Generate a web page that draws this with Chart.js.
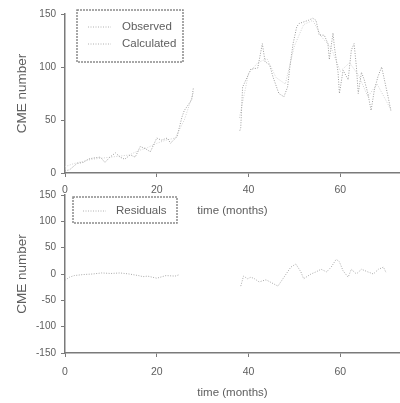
<!DOCTYPE html>
<html>
<head>
<meta charset="utf-8">
<script src="https://cdn.jsdelivr.net/npm/chart.js@4/dist/chart.umd.min.js"></script>
<style>
  body { margin: 0; background: #fff; }
  #wrap { position: relative; width: 400px; height: 403px; overflow: hidden; }
  canvas { position: absolute; left: 0; }
  #topChart { top: 0; }
  #bottomChart { top: 180px; }
</style>
</head>
<body>
<div id="wrap">
  <canvas id="topChart" width="400" height="220"></canvas>
  <canvas id="bottomChart" width="400" height="223"></canvas>
</div>
<script>
// tick labels
const xTicks = [0, 20, 40, 60];

// observed CME numbers (null = gap in the record)
const obsMonths = [0, 1, 2.6, 4, 5, 6, 7.7, 8.7, 9.8, 11, 12, 13, 14.2, 15.3, 16.4, 17.5, 18.6, 20, 21, 22.3, 23, 23.6, 24.4, 25.5, 26, 27.6, 28,
  33,
  38.1, 38.3, 38.7, 40.5, 42, 43, 43.6, 44.6, 45.3, 46.6, 47.7, 48.5, 49, 49.7, 50.5, 51, 53, 54, 54.7, 55.4, 56.5, 57.3, 57.6, 58.4, 58.7,
  59.5, 59.8, 60.6, 61.7, 62.4, 63, 63.5, 63.9, 64.6, 65.2, 66, 66.7, 67.4, 68.2, 69, 69.6, 70.4, 71];
const observed = [2, 3, 9, 10, 13, 14, 15, 10, 15, 19, 15, 13, 17, 15, 25, 23, 20, 33, 31, 33, 28, 31, 34, 53, 59, 69, 81,
  null,
  40, 43, 81, 98, 99, 122, 105, 102, 91, 75, 72, 81, 100, 122, 138, 141, 144, 146, 144, 130, 130, 122, 107, 132, 119,
  95, 75, 97, 88, 116, 122, 100, 75, 95, 88, 75, 59, 78, 91, 100, 88, 72, 59];

// calculated CME numbers
const calcMonths = [0, 2, 4, 6, 8, 10, 12, 14, 16, 18, 20, 22, 24, 26, 28,
  33,
  38, 40, 42, 44, 46, 48, 50, 52, 54, 56, 58, 60, 62, 64, 66, 68, 70, 71];
const calculated = [6, 9, 11, 13, 14, 15, 16, 17, 21, 24, 28, 31, 33, 50, 76,
  null,
  52, 94, 104, 108, 90, 84, 120, 140, 144, 128, 118, 96, 104, 92, 72, 84, 68, 60];

// residuals (observed - calculated)
const resMonths = [0, 1, 2, 4, 6, 8, 10, 12, 14, 16, 17, 18, 20, 22, 24, 25,
  30,
  38.3, 38.9, 39.8, 40.5, 41.3, 42.3, 43.8, 46.4, 49.2, 50.3, 51.4, 52, 53.6, 54.7, 55.8, 57, 58, 59.1, 59.8, 60.6, 61.7, 62.4, 63.5, 64.6, 66, 67.2, 68.3, 69.4, 70];
const residuals = [-12, -6, -3, -1, 0, 2, 1, 2, 0, -3, -5, -4, -8, -3, -4, -1,
  null,
  -23, -4, -9, -6, -9, -15, -11, -23, 13, 19, 4, -9, 0, 4, 9, 4, 13, 28, 23, 6, -6, 9, 0, 9, 4, 0, 9, 13, 2];

const textColor = "#5e5e5e";
const axisColor = "#7a7a7a";
const fontFamily = "'Liberation Sans', Arial, sans-serif";

function toPoints(xs, ys) {
  return xs.map((x, i) => ({ x: x, y: ys[i] }));
}

// draws the framed legend box with dotted border
const boxLegend = {
  id: "boxLegend",
  afterDraw(chart, args, opts) {
    const ctx = chart.ctx;
    ctx.save();
    ctx.strokeStyle = "#8a8a8a";
    ctx.lineWidth = 1.5;
    ctx.setLineDash([2, 1]);
    ctx.strokeRect(opts.x, opts.y, opts.w, opts.h);
    ctx.font = "11.5px " + fontFamily;
    ctx.fillStyle = textColor;
    ctx.textBaseline = "middle";
    chart.data.datasets.forEach((ds, i) => {
      const y = opts.y + opts.first + i * opts.gap;
      ctx.strokeStyle = "#b0b0b0";
      ctx.lineWidth = 1;
      ctx.setLineDash([1, 1.5]);
      ctx.beginPath();
      ctx.moveTo(opts.x + opts.lineStart, y);
      ctx.lineTo(opts.x + opts.lineStart + 23, y);
      ctx.stroke();
      ctx.fillText(ds.label, opts.x + opts.textStart, y);
    });
    ctx.restore();
  }
};

function xScale(height, tickPad, titlePad) {
  return {
    type: "linear",
    min: 0,
    max: 73,
    afterBuildTicks: axis => { axis.ticks = xTicks.map(v => ({ value: v })); },
    afterFit: axis => { axis.height = height; },
    grid: { drawOnChartArea: false, drawTicks: true, tickLength: 4, color: axisColor },
    border: { display: true, color: axisColor, width: 1.5, dash: [2, 1] },
    ticks: { color: textColor, font: { size: 10.5, family: fontFamily }, padding: tickPad, maxRotation: 0 },
    title: { display: true, text: "time (months)", color: textColor, font: { size: 11.5, family: fontFamily }, padding: { top: 0, bottom: titlePad } }
  };
}

function yScale(min, max) {
  return {
    min: min,
    max: max,
    ticks: { stepSize: 50, color: textColor, font: { size: 10, family: fontFamily }, padding: 5 },
    afterFit: axis => { axis.width = 65; },
    grid: { drawOnChartArea: false, drawTicks: true, tickLength: 4, color: axisColor },
    border: { display: true, color: axisColor, width: 1.5, dash: [2, 1] },
    title: { display: true, text: "CME number", color: textColor, font: { size: 13.5, family: fontFamily }, padding: { top: 14, bottom: 0 } }
  };
}

new Chart(document.getElementById("topChart"), {
  type: "line",
  data: {
    datasets: [
      {
        label: "Observed",
        data: toPoints(obsMonths, observed),
        borderColor: "#9c9c9c",
        borderWidth: 1,
        borderDash: [1, 1.5],
        pointRadius: 0,
        spanGaps: false
      },
      {
        label: "Calculated",
        data: toPoints(calcMonths, calculated),
        borderColor: "#d2d2d2",
        borderWidth: 1,
        borderDash: [1, 1.5],
        pointRadius: 0,
        spanGaps: false
      }
    ]
  },
  options: {
    responsive: false,
    animation: false,
    layout: { padding: { top: 14, right: 0, left: 0, bottom: 0 } },
    plugins: {
      legend: { display: false },
      tooltip: { enabled: false },
      boxLegend: { x: 77, y: 10, w: 106, h: 52, first: 17, gap: 17, lineStart: 11, textStart: 45 }
    },
    scales: { x: xScale(47, 7, 2), y: yScale(0, 150) }
  },
  plugins: [boxLegend]
});

new Chart(document.getElementById("bottomChart"), {
  type: "line",
  data: {
    datasets: [
      {
        label: "Residuals",
        data: toPoints(resMonths, residuals),
        borderColor: "#a8a8a8",
        borderWidth: 1,
        borderDash: [1, 1.5],
        pointRadius: 0,
        spanGaps: false
      }
    ]
  },
  options: {
    responsive: false,
    animation: false,
    layout: { padding: { top: 15, right: 0, left: 0, bottom: 0 } },
    plugins: {
      legend: { display: false },
      tooltip: { enabled: false },
      boxLegend: { x: 73, y: 17, w: 104, h: 26, first: 14, gap: 17, lineStart: 10, textStart: 43 }
    },
    scales: { x: xScale(50, 9, 3), y: yScale(-150, 150) }
  },
  plugins: [boxLegend]
});
</script>
</body>
</html>
